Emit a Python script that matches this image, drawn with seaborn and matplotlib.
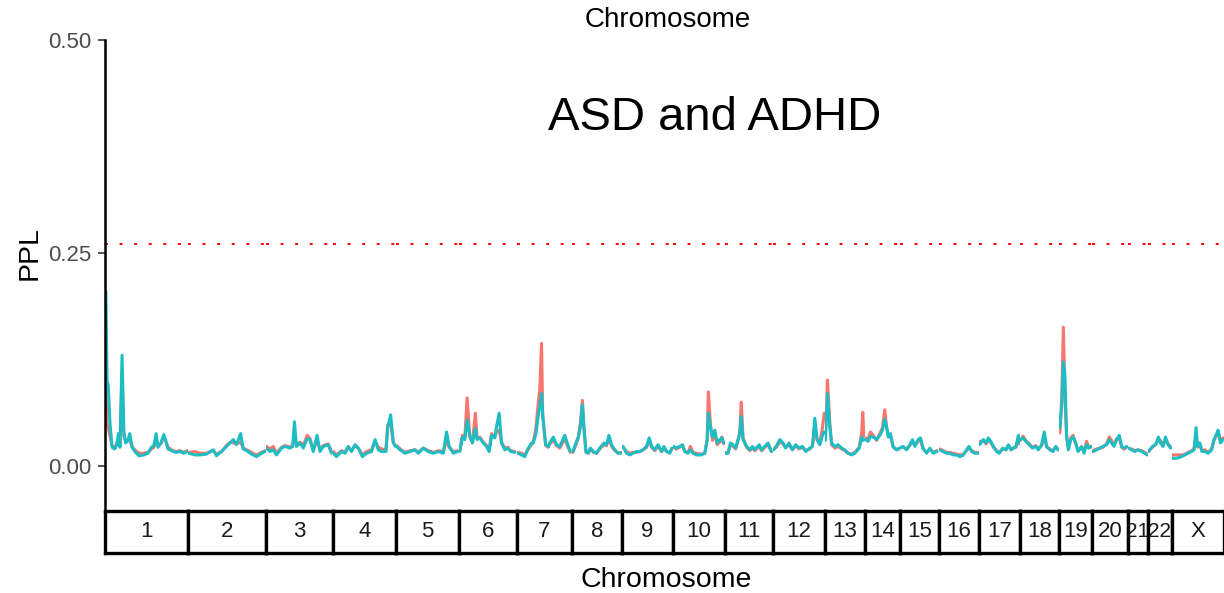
import matplotlib
matplotlib.use("Agg")
import matplotlib.pyplot as plt
import pandas as pd
import seaborn as sns

chromosomes = ['1', '2', '3', '4', '5', '6', '7', '8', '9', '10', '11', '12',
               '13', '14', '15', '16', '17', '18', '19', '20', '21', '22', 'X']
chrom_len_cm = [282, 265, 228, 214, 214, 197, 187, 170, 173, 177, 163, 177,
                136, 119, 133, 136, 139, 133, 112, 122, 68, 82, 177]

traits = ['ASD', 'ADHD']
threshold = 0.26
title = 'ASD and ADHD'

# positions (cM) per chromosome
pos_cm = [
    [3, 7, 11, 17, 24, 33, 40, 46, 51, 58, 64, 70, 78, 84, 92, 104, 116, 132, 146, 158, 166, 174, 180, 190, 200, 206, 214, 226, 240, 254, 268, 280],
    [2, 24, 41, 63, 86, 97, 114, 131, 143, 154, 165, 179, 188, 199, 216, 233, 250, 262],
    [2, 14, 25, 36, 53, 65, 82, 91, 97, 104, 116, 127, 140, 150, 161, 174, 184, 195, 212, 223],
    [1, 12, 29, 41, 52, 63, 75, 86, 100, 114, 131, 143, 154, 165, 180, 186, 196, 205, 212],
    [2, 14, 31, 48, 65, 76, 93, 110, 127, 144, 161, 172, 181, 195, 210],
    [3, 12, 20, 28, 37, 46, 56, 62, 71, 83, 94, 103, 111, 122, 128, 137, 145, 156, 166, 176, 190],
    [4, 16, 27, 39, 50, 56, 65, 73, 78, 84, 88, 92, 98, 107, 112, 124, 135, 146, 163, 175, 182],
    [4, 14, 22, 29, 36, 41, 48, 56, 63, 73, 84, 95, 109, 118, 126, 135, 146, 157, 166],
    [4, 16, 27, 38, 50, 61, 72, 84, 93, 101, 112, 123, 135, 143, 152, 163, 170],
    [3, 12, 24, 33, 41, 52, 60, 69, 80, 97, 109, 117, 121, 128, 135, 143, 151, 160, 167, 173],
    [1, 11, 19, 28, 37, 45, 51, 56, 62, 74, 85, 94, 102, 117, 125, 136, 147, 158],
    [3, 12, 24, 35, 44, 55, 67, 78, 89, 101, 112, 126, 135, 143, 151, 160, 169, 175],
    [2, 9, 17, 23, 34, 45, 57, 68, 79, 91, 102, 117, 125, 129, 133],
    [2, 11, 19, 28, 40, 51, 60, 68, 74, 80, 87, 96, 108, 117],
    [1, 11, 23, 34, 43, 51, 62, 70, 79, 91, 102, 113, 126],
    [3, 14, 26, 37, 48, 60, 71, 83, 94, 102, 111, 122, 134],
    [2, 6, 15, 24, 32, 40, 49, 60, 69, 81, 92, 100, 109, 117, 126, 134, 137],
    [2, 11, 20, 32, 43, 54, 63, 74, 83, 91, 102, 113, 122, 130],
    [3, 9, 15, 20, 26, 32, 40, 48, 57, 65, 77, 85, 94, 101, 108],
    [4, 16, 27, 38, 50, 59, 67, 75, 84, 93, 101, 109, 118],
    [1, 13, 24, 35, 47, 58, 66],
    [2, 16, 27, 36, 43, 52, 60, 69, 78],
    [2, 16, 33, 44, 55, 67, 75, 82, 87, 95, 102, 112, 123, 135, 143, 152, 157, 165, 174],
]

# PPL, first trait (red)
ppl_red = [
    [0.09, 0.05, 0.045, 0.035, 0.024, 0.021, 0.027, 0.03, 0.026, 0.11, 0.035, 0.03, 0.03, 0.03, 0.023, 0.018, 0.015, 0.015, 0.016, 0.02, 0.022, 0.03, 0.024, 0.026, 0.034, 0.03, 0.022, 0.019, 0.017, 0.018, 0.016, 0.018],
    [0.016, 0.017, 0.015, 0.015, 0.018, 0.014, 0.017, 0.024, 0.028, 0.027, 0.026, 0.028, 0.021, 0.019, 0.016, 0.013, 0.016, 0.018],
    [0.023, 0.02, 0.023, 0.015, 0.022, 0.024, 0.022, 0.025, 0.035, 0.025, 0.028, 0.024, 0.036, 0.032, 0.019, 0.03, 0.019, 0.024, 0.026, 0.017],
    [0.017, 0.013, 0.018, 0.016, 0.022, 0.018, 0.024, 0.021, 0.013, 0.017, 0.019, 0.029, 0.022, 0.02, 0.019, 0.048, 0.05, 0.028, 0.024],
    [0.024, 0.02, 0.016, 0.018, 0.019, 0.016, 0.021, 0.018, 0.016, 0.018, 0.017, 0.03, 0.022, 0.017, 0.018],
    [0.018, 0.036, 0.032, 0.080, 0.034, 0.028, 0.062, 0.032, 0.034, 0.028, 0.024, 0.019, 0.038, 0.034, 0.04, 0.042, 0.028, 0.021, 0.022, 0.018, 0.017],
    [0.016, 0.015, 0.013, 0.02, 0.025, 0.028, 0.045, 0.075, 0.09, 0.144, 0.06, 0.045, 0.024, 0.022, 0.026, 0.03, 0.024, 0.021, 0.032, 0.021, 0.016],
    [0.016, 0.025, 0.033, 0.05, 0.077, 0.045, 0.016, 0.015, 0.02, 0.016, 0.015, 0.02, 0.025, 0.024, 0.033, 0.023, 0.018, 0.015, 0.016],
    [0.022, 0.017, 0.015, 0.016, 0.016, 0.017, 0.019, 0.022, 0.03, 0.022, 0.018, 0.023, 0.017, 0.021, 0.017, 0.016, 0.02],
    [0.022, 0.02, 0.022, 0.024, 0.017, 0.016, 0.023, 0.016, 0.015, 0.014, 0.015, 0.03, 0.087, 0.05, 0.03, 0.038, 0.025, 0.028, 0.034, 0.026],
    [0.016, 0.015, 0.025, 0.023, 0.02, 0.03, 0.04, 0.075, 0.033, 0.022, 0.018, 0.021, 0.018, 0.023, 0.018, 0.022, 0.025, 0.017],
    [0.02, 0.022, 0.028, 0.026, 0.022, 0.025, 0.019, 0.024, 0.02, 0.022, 0.018, 0.02, 0.024, 0.045, 0.03, 0.028, 0.045, 0.062],
    [0.035, 0.101, 0.05, 0.025, 0.021, 0.023, 0.02, 0.018, 0.015, 0.014, 0.016, 0.022, 0.038, 0.063, 0.035],
    [0.033, 0.031, 0.04, 0.036, 0.03, 0.038, 0.045, 0.066, 0.045, 0.035, 0.036, 0.022, 0.019, 0.02],
    [0.022, 0.022, 0.02, 0.024, 0.029, 0.024, 0.029, 0.031, 0.02, 0.016, 0.02, 0.016, 0.018],
    [0.02, 0.018, 0.016, 0.016, 0.015, 0.014, 0.013, 0.014, 0.018, 0.022, 0.018, 0.016, 0.016],
    [0.028, 0.029, 0.03, 0.026, 0.03, 0.028, 0.022, 0.018, 0.016, 0.02, 0.019, 0.024, 0.019, 0.021, 0.022, 0.033, 0.026],
    [0.03, 0.035, 0.03, 0.026, 0.022, 0.024, 0.02, 0.024, 0.035, 0.022, 0.02, 0.018, 0.022, 0.019],
    [0.039, 0.075, 0.163, 0.08, 0.036, 0.02, 0.033, 0.036, 0.026, 0.018, 0.022, 0.017, 0.029, 0.022, 0.022],
    [0.018, 0.02, 0.021, 0.022, 0.026, 0.034, 0.03, 0.024, 0.032, 0.033, 0.022, 0.02, 0.022],
    [0.021, 0.02, 0.018, 0.019, 0.018, 0.016, 0.014],
    [0.017, 0.022, 0.026, 0.031, 0.03, 0.025, 0.031, 0.026, 0.022],
    [0.013, 0.013, 0.013, 0.014, 0.016, 0.018, 0.02, 0.035, 0.022, 0.025, 0.018, 0.019, 0.016, 0.02, 0.03, 0.036, 0.04, 0.03, 0.033],
]

# PPL, second trait (teal)
ppl_teal = [
    [0.205, 0.10, 0.095, 0.05, 0.022, 0.02, 0.025, 0.038, 0.022, 0.13, 0.04, 0.027, 0.03, 0.038, 0.022, 0.016, 0.012, 0.013, 0.015, 0.022, 0.024, 0.038, 0.022, 0.027, 0.037, 0.03, 0.02, 0.018, 0.016, 0.017, 0.015, 0.017],
    [0.015, 0.013, 0.013, 0.014, 0.019, 0.012, 0.017, 0.023, 0.027, 0.031, 0.025, 0.038, 0.02, 0.018, 0.014, 0.011, 0.015, 0.017],
    [0.021, 0.017, 0.019, 0.013, 0.021, 0.023, 0.021, 0.023, 0.052, 0.023, 0.027, 0.021, 0.032, 0.031, 0.017, 0.036, 0.017, 0.023, 0.025, 0.015],
    [0.015, 0.011, 0.017, 0.015, 0.023, 0.017, 0.025, 0.021, 0.011, 0.015, 0.017, 0.031, 0.019, 0.017, 0.017, 0.045, 0.060, 0.027, 0.023],
    [0.023, 0.019, 0.015, 0.017, 0.019, 0.015, 0.021, 0.017, 0.015, 0.017, 0.015, 0.040, 0.023, 0.015, 0.017],
    [0.017, 0.034, 0.031, 0.054, 0.036, 0.027, 0.044, 0.031, 0.033, 0.027, 0.023, 0.017, 0.036, 0.033, 0.046, 0.062, 0.027, 0.019, 0.021, 0.017, 0.016],
    [0.015, 0.013, 0.011, 0.021, 0.027, 0.027, 0.038, 0.060, 0.070, 0.085, 0.06, 0.045, 0.025, 0.023, 0.027, 0.034, 0.025, 0.023, 0.036, 0.023, 0.017],
    [0.017, 0.027, 0.034, 0.046, 0.072, 0.046, 0.017, 0.015, 0.021, 0.017, 0.015, 0.021, 0.027, 0.025, 0.036, 0.025, 0.019, 0.015, 0.015],
    [0.023, 0.015, 0.013, 0.015, 0.017, 0.017, 0.019, 0.023, 0.033, 0.023, 0.019, 0.025, 0.017, 0.023, 0.017, 0.015, 0.021],
    [0.023, 0.021, 0.023, 0.025, 0.017, 0.015, 0.019, 0.015, 0.013, 0.013, 0.015, 0.031, 0.062, 0.046, 0.034, 0.042, 0.027, 0.031, 0.033, 0.027],
    [0.015, 0.015, 0.027, 0.025, 0.021, 0.031, 0.038, 0.058, 0.031, 0.023, 0.019, 0.023, 0.019, 0.025, 0.019, 0.023, 0.027, 0.017],
    [0.019, 0.023, 0.031, 0.027, 0.021, 0.027, 0.019, 0.025, 0.021, 0.023, 0.017, 0.021, 0.023, 0.056, 0.031, 0.025, 0.036, 0.040],
    [0.030, 0.085, 0.046, 0.027, 0.023, 0.025, 0.021, 0.019, 0.015, 0.013, 0.015, 0.021, 0.034, 0.03, 0.031],
    [0.031, 0.029, 0.035, 0.034, 0.031, 0.036, 0.042, 0.055, 0.046, 0.034, 0.038, 0.023, 0.019, 0.021],
    [0.021, 0.023, 0.019, 0.025, 0.031, 0.023, 0.031, 0.033, 0.021, 0.015, 0.021, 0.015, 0.017],
    [0.019, 0.017, 0.015, 0.015, 0.013, 0.013, 0.011, 0.013, 0.019, 0.023, 0.017, 0.015, 0.015],
    [0.025, 0.027, 0.031, 0.027, 0.033, 0.029, 0.023, 0.017, 0.015, 0.021, 0.019, 0.025, 0.019, 0.021, 0.023, 0.036, 0.027],
    [0.031, 0.033, 0.029, 0.025, 0.021, 0.023, 0.019, 0.025, 0.040, 0.023, 0.019, 0.017, 0.023, 0.019],
    [0.045, 0.07, 0.122, 0.108, 0.034, 0.019, 0.031, 0.034, 0.027, 0.017, 0.023, 0.015, 0.025, 0.021, 0.023],
    [0.017, 0.019, 0.021, 0.023, 0.025, 0.031, 0.027, 0.023, 0.031, 0.036, 0.023, 0.021, 0.023],
    [0.021, 0.019, 0.017, 0.019, 0.017, 0.015, 0.013],
    [0.017, 0.023, 0.025, 0.034, 0.027, 0.023, 0.034, 0.025, 0.021],
    [0.009, 0.009, 0.011, 0.013, 0.015, 0.017, 0.019, 0.045, 0.023, 0.027, 0.017, 0.017, 0.015, 0.019, 0.031, 0.038, 0.042, 0.027, 0.031],
]

sns.set_style("white")
plt.rcParams['font.family'] = ['Liberation Sans', 'DejaVu Sans']
plt.rcParams['text.color'] = 'black'

fig = plt.figure(figsize=(12.24, 5.93), dpi=100)
gs = fig.add_gridspec(2, len(chromosomes), width_ratios=chrom_len_cm,
                      height_ratios=[468.6, 42],
                      left=105 / 1224, right=1.0, top=1 - 40 / 593, bottom=1 - 553 / 593,
                      wspace=0, hspace=0.0094)

for i, chrom in enumerate(chromosomes):
    n = len(pos_cm[i])
    df = pd.DataFrame({
        'pos': pos_cm[i] + pos_cm[i],
        'PPL': ppl_red[i] + ppl_teal[i],
        'trait': [traits[0]] * n + [traits[1]] * n,
    })
    ax = fig.add_subplot(gs[0, i])
    ax.patch.set_alpha(0)
    sns.lineplot(data=df, x='pos', y='PPL', hue='trait', hue_order=traits,
                 palette=['#F8766D', '#1CBEC4'], estimator=None, linewidth=2.2,
                 legend=False, ax=ax)
    ax.axhline(threshold, color='red', lw=1.4, ls=(0, (1.5, 6)))
    ax.set_xlim(0, chrom_len_cm[i])
    ax.set_ylim(-0.05, 0.5)
    ax.set_xlabel('')
    ax.set_ylabel('')
    ax.set_xticks([])
    for sp in ax.spines.values():
        sp.set_visible(False)
    if i == 0:
        ax.spines['left'].set_visible(True)
        ax.spines['left'].set_color('black')
        ax.spines['left'].set_linewidth(1.8)
        ax.set_yticks([0, 0.25, 0.5])
        ax.set_yticklabels(['0.00', '0.25', '0.50'])
        ax.tick_params(axis='y', left=True, length=5, width=1.2, color='#333333',
                       labelsize=16, labelcolor='#4D4D4D', pad=5)
    else:
        ax.set_yticks([])

    # facet strip below the panel
    sax = fig.add_subplot(gs[1, i])
    sax.set_facecolor('white')
    sax.set_xticks([])
    sax.set_yticks([])
    for sp in sax.spines.values():
        sp.set_visible(True)
        sp.set_color('black')
        sp.set_linewidth(2.4)
    sax.text(0.5, 0.5, chrom, ha='center', va='center',
             fontsize=15 if len(chrom) > 1 and chrom_len_cm[i] < 90 else 16,
             color='#1A1A1A', transform=sax.transAxes)

fig.text(715 / 1224, 1 - 118 / 593, title, ha='center', va='center', fontsize=34, color='black')
fig.text(668 / 1224, 1 - 20 / 593, 'Chromosome', ha='center', va='center', fontsize=20, color='black')
fig.text(666 / 1224, 1 - 580 / 593, 'Chromosome', ha='center', va='center', fontsize=20.5, color='black')
fig.text(30 / 1224, 1 - 253 / 593, 'PPL', rotation=90, ha='center', va='center', fontsize=20.5, color='black')

fig.savefig('out.png', dpi=100)
